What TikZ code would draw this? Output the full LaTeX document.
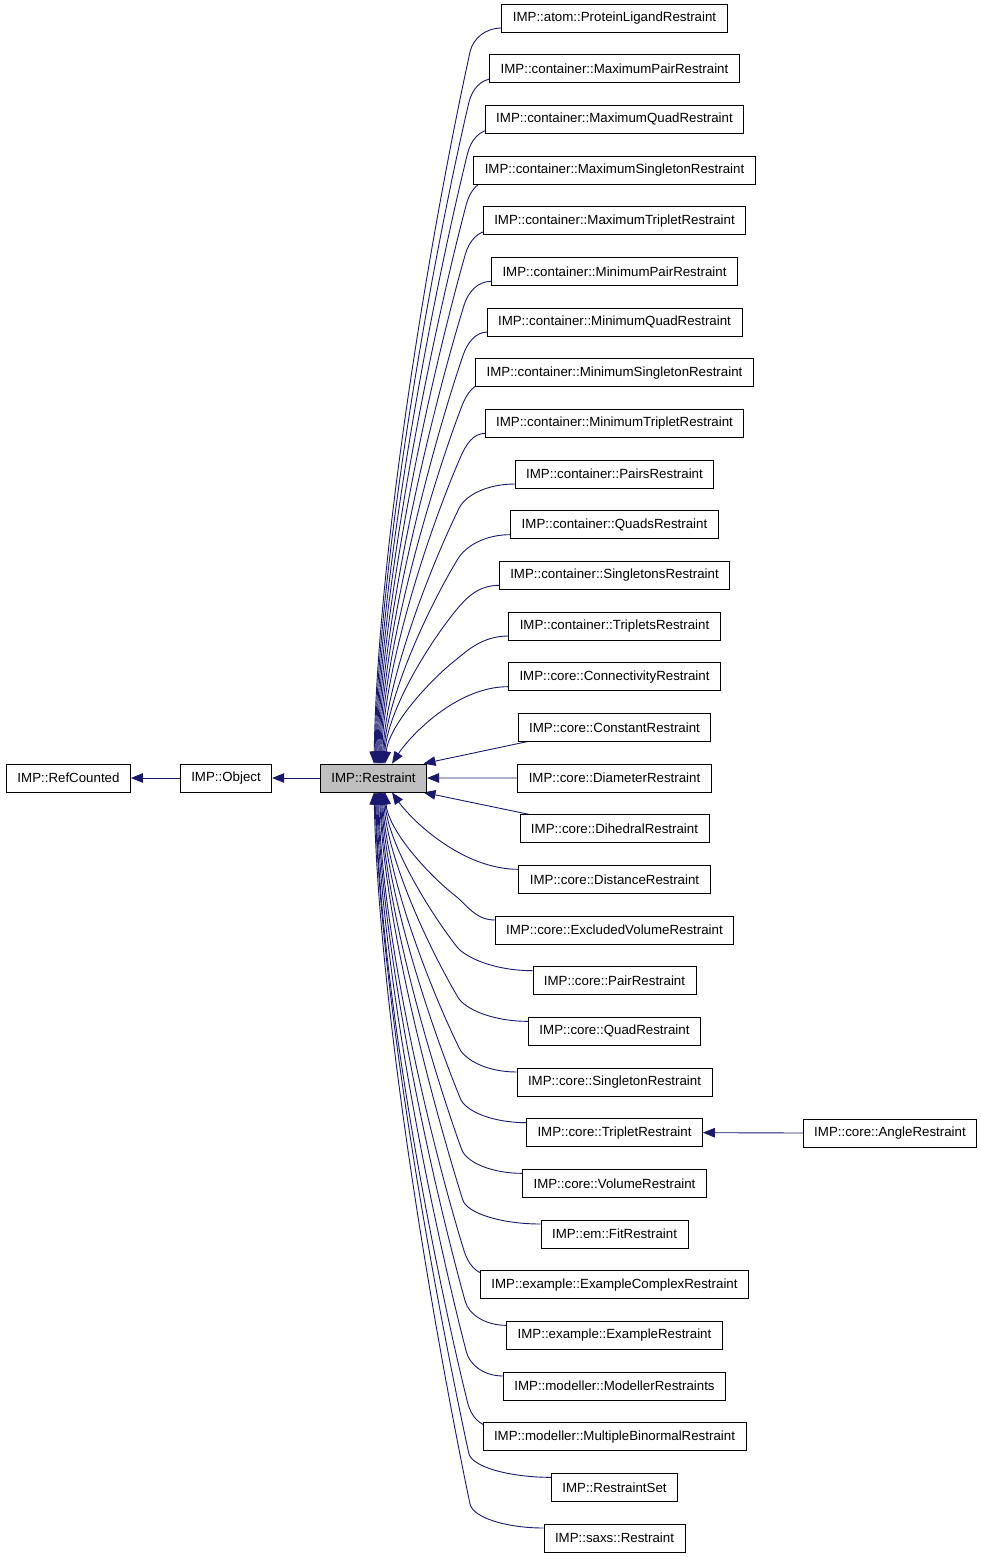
\documentclass[tikz,border=0pt]{standalone}
\usepackage{fontspec}
\setmainfont{Liberation Sans}
\usetikzlibrary{arrows.meta,calc,backgrounds}
\definecolor{edgeblue}{HTML}{191970}
\definecolor{curfill}{HTML}{BFBFBF}
\tikzset{
  box/.style={draw=black, line width=0.8pt, minimum height=28pt, inner xsep=11pt, inner ysep=0pt,
    font=\fontsize{13.3}{16}\selectfont, fill=white, text=black},
  edge/.style={draw=edgeblue, line width=0.9pt, -{Triangle[length=12pt,width=9.5pt,fill=edgeblue]}}
}
\begin{document}
\begin{tikzpicture}[x=1pt,y=-1pt]
\useasboundingbox (0,0) rectangle (981,1557);
\node[box] (rc) at (68.5,778) {IMP::RefCounted};
\node[box] (ob) at (226,778) {IMP::Object};
\node[box,fill=curfill] (R) at (373.5,778) {IMP::Restraint};
\foreach \i/\lbl in {
 0/IMP::atom::ProteinLigandRestraint,
 1/IMP::container::MaximumPairRestraint,
 2/IMP::container::MaximumQuadRestraint,
 3/IMP::container::MaximumSingletonRestraint,
 4/IMP::container::MaximumTripletRestraint,
 5/IMP::container::MinimumPairRestraint,
 6/IMP::container::MinimumQuadRestraint,
 7/IMP::container::MinimumSingletonRestraint,
 8/IMP::container::MinimumTripletRestraint,
 9/IMP::container::PairsRestraint,
 10/IMP::container::QuadsRestraint,
 11/IMP::container::SingletonsRestraint,
 12/IMP::container::TripletsRestraint,
 13/IMP::core::ConnectivityRestraint,
 14/IMP::core::ConstantRestraint,
 15/IMP::core::DiameterRestraint,
 16/IMP::core::DihedralRestraint,
 17/IMP::core::DistanceRestraint,
 18/IMP::core::ExcludedVolumeRestraint,
 19/IMP::core::PairRestraint,
 20/IMP::core::QuadRestraint,
 21/IMP::core::SingletonRestraint,
 22/IMP::core::TripletRestraint,
 23/IMP::core::VolumeRestraint,
 24/IMP::em::FitRestraint,
 25/IMP::example::ExampleComplexRestraint,
 26/IMP::example::ExampleRestraint,
 27/IMP::modeller::ModellerRestraints,
 28/IMP::modeller::MultipleBinormalRestraint,
 29/IMP::RestraintSet,
 30/IMP::saxs::Restraint} {
  \node[box] (c\i) at (614.5,{18+\i*50.6667}) {\lbl};
}
\node[box] (ang) at (890,1133) {IMP::core::AngleRestraint};

\draw[edge] (ob.west) -- (rc.east);
\draw[edge] (R.west) -- (ob.east);
\draw[edge] (ang.west) -- (c22.east);
\draw[edge] (c15.west) -- (R.east);

\begin{scope}[on background layer]
\foreach \i in {0,...,14,16,17,...,30} {
  \pgfmathtruncatemacro\d{abs(\i-15)}
  \pgfmathsetmacro\s{\i<15 ? 1 : -1}
  \pgfmathsetmacro\tx{\d==1 ? 50 : (\d==2 ? 18.5 : 0.5+11*(15-\d)/12)}
  \ifnum\i<15
    \coordinate (T) at ($(R.north)+(\tx,0)$);
  \else
    \coordinate (T) at ($(R.south)+(\tx,0)$);
  \fi
  \ifnum\d=1
    \ifnum\i<15
      \coordinate (S) at ($(c\i.south west)+(9,0)$);
    \else
      \coordinate (S) at ($(c\i.north west)+(9,0)$);
    \fi
    \draw[edge] (S) -- (T);
  \else
    \ifnum\d=2
      \coordinate (S) at ($(c\i.west)+(0,10*\s)$);
      \draw[edge] let \p1=(S), \p2=(T), \n1={\x1-\x2}, \n2={abs(\y1-\y2)} in
        (S) .. controls ($(S)+(-0.45*\n1,0pt)$) and ($(T)+({0.15*\n1},{(\s)*0.35*\n2})$) .. (T);
    \else
      \draw[edge] let \p0=(c\i.west), \p2=(T),
          \n3={470pt-1.2pt*(15-\d)},
          \n4={max(\x0,\n3+25pt)},
          \n5={\y0-(\s)*10pt},
          \p1=(\n4,\n5),
          \p3=(\n3,{\n5-(\s)*24pt}),
          \n1={\x1-\x2}, \n2={abs(\y1-\y2)},
          \p4=({\x2+0.1*\n1},{\y2+(\s)*0.45*\n2}) in
        (\p1) .. controls ({\x1-0.5*(\x1-\x3)},\y1) and ($(\p3)!-14pt!(\p4)$) .. (\p3)
            .. controls ($(\p3)!0.45!(\p4)$) and ({\x2+0.03*\n1},{\y2+(\s)*0.3*\n2}) .. (\p2);
    \fi
  \fi
}
\end{scope}
\end{tikzpicture}
\end{document}
